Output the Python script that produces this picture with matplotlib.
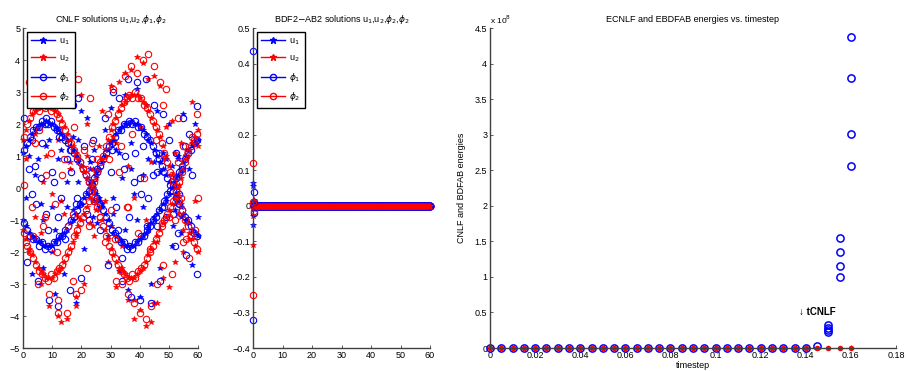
import numpy as np
import matplotlib
matplotlib.use('Agg')
import matplotlib.pyplot as plt
from matplotlib.lines import Line2D
from matplotlib.ticker import FuncFormatter

plt.rcParams['font.family'] = ['Liberation Sans', 'DejaVu Sans']
plt.rcParams['mathtext.fontset'] = 'dejavusans'

# ---------------- CNLF solutions (panel 1) ----------------
t_full = np.arange(61)          # 0..60
t_half = np.arange(60) + 0.5    # 0.5..59.5

# dense bands (stars on integer steps, circles in between)
u1_up = [1.1, 1.3, 1.5, 1.7, 1.8, 1.9, 2.0, 2.0, 2.1, 2.0,
         2.0, 1.9, 1.8, 1.7, 1.6, 1.5, 1.3, 1.2, 1.0, 0.8,
         0.7, 0.5, 0.3, 0.2, 0.0, -0.2, -0.4, -0.6, -0.8, -1.0,
         -1.2, -1.4, -1.5, -1.6, -1.7, -1.8, -1.8, -1.8, -1.8, -1.7,
         -1.6, -1.5, -1.4, -1.3, -1.1, -1.0, -0.8, -0.7, -0.5, -0.3,
         -0.2, 0.0, 0.2, 0.4, 0.6, 0.8, 1.0, 1.2, 1.3, 1.4,
         1.5]
u1_lo = [-1.0, -1.2, -1.4, -1.5, -1.6, -1.7, -1.7, -1.8, -1.8, -1.8,
         -1.8, -1.7, -1.6, -1.5, -1.4, -1.3, -1.1, -1.0, -0.8, -0.6,
         -0.5, -0.3, -0.2, 0.0, 0.2, 0.4, 0.6, 0.8, 1.0, 1.2,
         1.4, 1.5, 1.7, 1.8, 1.9, 2.0, 2.0, 2.1, 2.0, 2.0,
         1.9, 1.8, 1.7, 1.5, 1.4, 1.2, 1.0, 0.8, 0.6, 0.4,
         0.2, 0.0, -0.2, -0.4, -0.6, -0.8, -1.0, -1.1, -1.3, -1.4,
         -1.5]
u2_up = [1.5, 1.8, 2.1, 2.3, 2.4, 2.5, 2.5, 2.6, 2.5, 2.5,
         2.5, 2.4, 2.3, 2.1, 1.9, 1.7, 1.5, 1.3, 1.1, 0.9,
         0.7, 0.5, 0.3, 0.1, -0.1, -0.4, -0.7, -1.0, -1.3, -1.6,
         -1.9, -2.1, -2.3, -2.5, -2.6, -2.7, -2.8, -2.8, -2.8, -2.7,
         -2.6, -2.5, -2.3, -2.1, -1.9, -1.7, -1.5, -1.3, -1.1, -0.9,
         -0.7, -0.5, -0.3, 0.0, 0.3, 0.6, 0.9, 1.2, 1.4, 1.6,
         1.8]
u2_lo = [-1.3, -1.6, -1.9, -2.1, -2.3, -2.5, -2.6, -2.7, -2.8, -2.8,
         -2.8, -2.7, -2.6, -2.5, -2.3, -2.1, -1.9, -1.7, -1.4, -1.2,
         -1.0, -0.8, -0.6, -0.3, 0.0, 0.3, 0.6, 0.9, 1.2, 1.5,
         1.8, 2.0, 2.2, 2.4, 2.6, 2.7, 2.8, 2.9, 2.9, 2.9,
         2.8, 2.7, 2.6, 2.4, 2.2, 2.0, 1.8, 1.6, 1.3, 1.0,
         0.7, 0.4, 0.1, -0.2, -0.5, -0.8, -1.1, -1.4, -1.6, -1.8,
         -2.0]
phi1_up = [1.2, 1.4, 1.6, 1.8, 1.9, 1.9, 2.1, 2.0, 2.0, 2.1,
           1.9, 1.8, 1.8, 1.6, 1.5, 1.4, 1.2, 1.1, 0.9, 0.8,
           0.6, 0.4, 0.2, 0.1, -0.1, -0.3, -0.5, -0.7, -0.9, -1.1,
           -1.3, -1.4, -1.6, -1.7, -1.7, -1.9, -1.8, -1.9, -1.7, -1.7,
           -1.5, -1.5, -1.3, -1.2, -1.0, -0.9, -0.7, -0.6, -0.4, -0.2,
           -0.1, 0.1, 0.3, 0.5, 0.7, 0.9, 1.1, 1.2, 1.4, 1.5]
phi1_lo = [-1.1, -1.3, -1.5, -1.6, -1.6, -1.8, -1.7, -1.9, -1.8, -1.9,
           -1.7, -1.7, -1.5, -1.5, -1.3, -1.2, -1.0, -0.9, -0.7, -0.5,
           -0.4, -0.2, -0.1, 0.1, 0.3, 0.5, 0.7, 0.9, 1.1, 1.3,
           1.4, 1.6, 1.8, 1.8, 2.0, 2.0, 2.1, 2.0, 2.1, 1.9,
           1.9, 1.7, 1.6, 1.5, 1.3, 1.1, 0.9, 0.7, 0.5, 0.3,
           0.1, -0.1, -0.3, -0.5, -0.7, -0.9, -1.0, -1.2, -1.4, -1.5]
phi2_up = [1.6, 2.0, 2.2, 2.4, 2.5, 2.4, 2.6, 2.5, 2.6, 2.4,
           2.5, 2.3, 2.2, 2.0, 1.8, 1.6, 1.4, 1.2, 1.0, 0.8,
           0.6, 0.4, 0.2, 0.0, -0.3, -0.6, -0.9, -1.2, -1.5, -1.8,
           -2.0, -2.2, -2.4, -2.6, -2.7, -2.8, -2.9, -2.7, -2.8, -2.6,
           -2.5, -2.4, -2.2, -2.0, -1.8, -1.6, -1.4, -1.2, -1.0, -0.8,
           -0.6, -0.4, -0.1, 0.2, 0.5, 0.8, 1.1, 1.3, 1.5, 1.7]
phi2_lo = [-1.4, -1.8, -2.0, -2.2, -2.4, -2.6, -2.7, -2.8, -2.9, -2.7,
           -2.8, -2.6, -2.5, -2.4, -2.2, -2.0, -1.8, -1.5, -1.3, -1.1,
           -0.9, -0.7, -0.4, -0.1, 0.2, 0.5, 0.8, 1.0, 1.3, 1.6,
           1.9, 2.1, 2.3, 2.5, 2.7, 2.8, 2.9, 2.8, 3.0, 2.8,
           2.8, 2.6, 2.5, 2.3, 2.1, 1.9, 1.7, 1.4, 1.1, 0.8,
           0.5, 0.2, -0.1, -0.4, -0.7, -1.0, -1.2, -1.5, -1.7, -1.9]

# scattered points around the bands
u1_sx = [1, 2, 3, 4, 5, 6, 7, 8, 9, 10,
         11, 12, 13, 14, 15, 16, 17, 18, 19, 20,
         21, 22, 23, 27, 28, 29, 30, 31, 32, 33,
         34, 35, 36, 37, 38, 39, 40, 41, 42, 43,
         44, 45, 46, 47, 48, 49, 50, 51, 53, 54,
         55, 56, 57, 58, 59, 60, 25, 26, 52, 24,
         23, 24, 25, 26, 24.5, 25.5, 51, 52, 53, 54, 52.5, 51.5,
         5, 7, 9, 11, 13, 15, 17, 19,
         31, 33, 35, 37, 39, 41, 43, 45, 47, 49]
u1_sy = [-0.3, 1.0, -2.7, 0.4, 2.9, -0.5, -2.5, 1.3, 3.0, -0.6,
         -3.3, 0.9, 2.6, -2.7, 0.2, 3.0, -0.7, -3.6, 1.5, 2.4,
         -1.9, 2.2, 0.6, -0.5, 1.8, -1.5, 2.5, -0.3, 1.2, -2.6,
         0.3, 2.9, -3.2, 1.4, -0.2, 3.1, -3.4, 0.4, 2.6, -1.2,
         -3.0, 0.8, 2.4, -2.5, 1.1, -0.4, 2.0, -1.8, 0.9, -1.4,
         2.3, -1.0, 0.6, -2.4, 2.0, -0.9, 0.4, -0.6, -0.7, -0.4,
         0.8, -0.9, 0.5, -0.3, 1.2, -1.1, 0.7, -0.5, 1.0, -0.9, 0.3, -1.2,
         0.9, -1.0, 1.5, -1.3, 1.2, -0.6, 1.6, 0.2,
         -0.8, 1.1, -1.3, 0.6, -1.0, -0.6, 0.9, -0.9, 0.5, 0.9]
u2_sx = [1, 2, 3, 4, 5, 6, 7, 8, 9, 10,
         11, 12, 13, 14, 15, 16, 17, 18, 19, 20,
         21, 22, 24, 27, 28, 29, 30, 31, 32, 33,
         34, 35, 36, 37, 38, 39, 40, 41, 42, 43,
         44, 45, 46, 47, 48, 49, 50, 51, 52, 54,
         55, 56, 57, 58, 59, 60, 13, 18, 38, 45,
         22, 23, 24, 25, 26, 23.5, 24.5, 52, 53, 54, 55, 53.5,
         4, 6, 8, 10, 12, 14, 16, 18,
         30, 32, 34, 36, 38, 40, 42, 44, 46, 48]
u2_sy = [0.9, -2.0, 2.8, -0.9, 3.2, -3.0, 0.2, 3.4, -3.7, -0.2,
         3.0, -4.0, -0.4, 3.1, -4.1, 0.8, 3.6, -3.4, -0.9, 2.9,
         -3.0, 2.0, -1.2, 2.4, -0.4, -2.3, 3.2, 1.6, -3.1, 3.3,
         -2.5, 3.6, -3.5, 3.7, -4.1, 4.1, -3.8, 3.9, -4.3, 3.4,
         -4.2, 3.5, -3.6, 3.2, -2.8, 1.9, -3.1, 2.1, -2.3, 1.4,
         -2.0, 1.2, -1.6, 2.7, -0.4, 1.3, -4.2, -3.7, -3.5, -3.6,
         1.0, -1.1, 0.6, -0.7, 1.3, 0.2, -1.5, 1.1, -0.8, 0.5, -1.3, 0.1,
         1.7, -1.4, 1.0, -2.0, 1.5, -0.8, 0.6, -1.5,
         -1.2, 1.4, -1.8, 0.7, -0.3, 1.9, -1.0, 0.8, -1.7, 0.9]
phi1_sx = [0.5, 1.5, 2, 3, 4, 5, 6, 7, 8, 9,
           10, 11, 12, 13, 14, 15, 16, 17, 18, 19,
           20, 21, 22, 28, 29, 30, 31, 32, 33, 34,
           35, 36, 37, 38, 39, 40, 41, 42, 43, 44,
           45, 46, 47, 48, 49, 50, 55, 56, 57, 58,
           59.5, 59.5, 3, 8, 12, 16, 34, 40, 46, 52,
           22.5, 23.5, 24.5, 25.5, 26.5, 24, 51.5, 52.5, 53.5, 54.5, 53, 55.5,
           4.5, 6.5, 8.5, 10.5, 12.5, 14.5, 16.5, 18.5,
           30.5, 32.5, 34.5, 36.5, 38.5, 40.5, 42.5, 44.5, 46.5, 48.5]
phi1_sy = [2.2, -2.3, 0.6, -0.2, 0.7, -2.9, 0.3, 3.1, -0.8, -3.5,
           0.5, 2.7, -3.7, -0.3, 2.9, 0.9, -3.2, 2.6, -0.5, 2.8,
           -2.8, 1.3, -0.8, 2.2, -2.4, 0.5, 3.0, -0.6, 2.8, -2.9,
           1.0, 3.4, -3.4, 0.2, 3.3, -3.5, 1.3, 3.4, -0.3, -3.6,
           2.6, 0.5, -2.9, 2.3, -0.9, 1.5, 2.2, -2.1, 1.7, 0.4,
           2.55, -2.7, 1.5, 2.2, -0.9, 1.2, -2.2, 0.3, -1.2, -1.8,
           -1.0, 0.9, -0.4, 0.6, -1.3, 1.5, -0.8, 1.1, -0.2, 0.6, -1.4, 1.3,
           -0.5, 1.4, -1.3, 0.2, 1.6, -1.6, 0.5, -0.3,
           1.2, -1.3, 0.6, -0.9, 1.1, -0.2, -1.2, 0.4, 1.1, -0.6]
phi2_sx = [0.5, 1, 2, 3, 4, 5, 6, 7, 8, 9,
           10, 11, 12, 13, 14, 15, 16, 17, 18, 19,
           20, 21, 22, 23, 28, 29, 30, 31, 32, 33,
           34, 35, 36, 37, 38, 39, 40, 41, 42, 43,
           44, 45, 46, 47, 48, 49, 50, 51, 53, 55,
           56, 57, 58, 59, 59.5, 60, 12, 17, 48, 36,
           21.5, 22.5, 23.5, 24.5, 25.5, 26.5, 52, 53, 54, 55, 56, 51,
           3.5, 5.5, 7.5, 9.5, 11.5, 13.5, 15.5, 17.5,
           29.5, 31.5, 33.5, 35.5, 37.5, 39.5, 41.5, 43.5, 45.5, 47.5]
phi2_sy = [0.1, -1.7, 3.3, -0.6, 1.4, -3.0, 3.5, -1.2, 0.4, -3.3,
           3.0, -0.5, -3.9, 3.3, 0.9, -3.9, 3.7, -0.8, -3.3, 3.4,
           -3.2, 1.2, -2.5, 2.8, -1.7, 2.3, -0.7, 3.1, -2.9, 0.5,
           -3.0, 3.5, -3.3, 3.8, -3.6, 3.6, -3.9, 4.0, -4.1, 4.2,
           -3.7, 3.8, -3.0, 3.3, -2.4, 3.1, -0.9, -2.7, 2.2, -1.7,
           1.0, -2.2, 1.6, -1.3, 2.3, -0.3, -3.5, -2.9, 2.6, -0.6,
           0.6, -1.2, 1.4, -0.4, 0.9, -0.9, -1.0, 0.8, -0.3, 1.3, -1.6, 0.4,
           -1.5, 1.8, -0.9, 1.1, -2.0, 0.4, -1.2, 1.9,
           0.9, -1.6, 1.3, -0.6, 1.7, -1.4, 0.3, -1.9, 1.5, -1.1]

# ---------------- BDF2-AB2 solutions (panel 2) ----------------
bdf_u1_x = [0.0, 0.05, 0.3, 0.1]
bdf_u1_y = [0.065, 0.055, 0.01, -0.055]
bdf_u2_x = [0.0, 0.0, 0.3, 0.1]
bdf_u2_y = [-0.11, -0.03, 0.015, -0.01]
bdf_phi1_x = [0.0, 0.2, 0.5, 0.5, 0.0]
bdf_phi1_y = [0.435, 0.04, 0.01, -0.02, -0.32]
bdf_phi2_x = [0.0, 0.0, 0.2, 0.0]
bdf_phi2_y = [0.12, 0.01, -0.015, -0.25]
tail_t = np.arange(1, 241) * 0.25
tail_val = [0.0] * len(tail_t)

# ---------------- energies (panel 3), in units of 1e8 ----------------
steps = np.round(np.arange(33) * 0.005, 3)
ebdfab = [0.0] * 33
ecnlf_t = list(steps[:30]) + [0.15] * 4 + [0.155] * 4 + [0.16] * 4
ecnlf = [0.0] * 29 + [0.03] + [0.22, 0.25, 0.28, 0.32] + \
        [1.0, 1.16, 1.35, 1.55] + [2.56, 3.01, 3.79, 4.38]

BLUE = '#0000ff'
RED = '#ff0000'
AXC = '#404040'
FS = 6.5


def fmt(v, p):
    return f'{round(v, 6) + 0.0:g}'.replace('-', '\u2212')


def stars(ax, x, y, c, ms=4.2):
    ax.plot(x, y, ls='none', marker='*', ms=ms, color=c, mew=0.5, clip_on=False)


def rings(ax, x, y, c, ms=4.6):
    ax.plot(x, y, ls='none', marker='o', ms=ms, mfc='none', mec=c, mew=0.8, clip_on=False)


def style(ax):
    for s in ['top', 'right']:
        ax.spines[s].set_visible(False)
    for s in ['left', 'bottom']:
        ax.spines[s].set_color(AXC)
        ax.spines[s].set_linewidth(1.0)
    ax.tick_params(direction='in', length=2.5, width=0.6, labelsize=FS, pad=2, color=AXC)
    ax.xaxis.set_major_formatter(FuncFormatter(fmt))
    ax.yaxis.set_major_formatter(FuncFormatter(fmt))


def legend(ax):
    hs = [Line2D([], [], color=BLUE, marker='*', ms=4.5, lw=1),
          Line2D([], [], color=RED, marker='*', ms=4.5, lw=1),
          Line2D([], [], color=BLUE, marker='o', ms=4.5, mfc='none', lw=1),
          Line2D([], [], color=RED, marker='o', ms=4.5, mfc='none', lw=1)]
    labs = [r'u$_1$', r'u$_2$', r'$\phi_1$', r'$\phi_2$']
    lg = ax.legend(hs, labs, loc='upper left', fontsize=FS, fancybox=False,
                   framealpha=1, edgecolor='black', labelspacing=0.75,
                   handlelength=2.6, borderaxespad=0.4, borderpad=0.5,
                   handletextpad=0.5)
    lg.get_frame().set_linewidth(1.0)
    lg.set_zorder(5)


fig = plt.figure(figsize=(9.07, 3.71), dpi=100)
H = 371.0
W = 907.0
ax1 = fig.add_axes([23 / W, 1 - 348 / H, 175 / W, 320 / H])
ax2 = fig.add_axes([253 / W, 1 - 348 / H, 177 / W, 320 / H])
ax3 = fig.add_axes([490 / W, 1 - 348 / H, 406 / W, 320 / H])

# panel 1
stars(ax1, t_full, u1_up, BLUE)
stars(ax1, t_full, u1_lo, BLUE)
stars(ax1, u1_sx, u1_sy, BLUE)
stars(ax1, t_full, u2_up, RED)
stars(ax1, t_full, u2_lo, RED)
stars(ax1, u2_sx, u2_sy, RED)
rings(ax1, t_half, phi1_up, BLUE)
rings(ax1, t_half, phi1_lo, BLUE)
rings(ax1, phi1_sx, phi1_sy, BLUE)
rings(ax1, t_half, phi2_up, RED)
rings(ax1, t_half, phi2_lo, RED)
rings(ax1, phi2_sx, phi2_sy, RED)
ax1.set_xlim(0, 60)
ax1.set_ylim(-5, 5)
ax1.set_xticks(range(0, 61, 10))
ax1.set_yticks(range(-5, 6))
style(ax1)
legend(ax1)
ax1.set_title(r'CNLF solutions u$_1$,u$_2$,$\phi_1$,$\phi_2$', fontsize=FS, pad=4)

# panel 2: dense band at zero, red and blue marks interleaved
rings(ax2, tail_t, tail_val, RED, ms=5.0)
stars(ax2, tail_t + 0.125, tail_val, BLUE, ms=5.0)
rings(ax2, tail_t + 0.125, tail_val, BLUE, ms=5.0)
stars(ax2, tail_t, tail_val, RED, ms=5.0)
stars(ax2, bdf_u1_x, bdf_u1_y, BLUE)
stars(ax2, bdf_u2_x, bdf_u2_y, RED)
rings(ax2, bdf_phi1_x, bdf_phi1_y, BLUE)
rings(ax2, bdf_phi2_x, bdf_phi2_y, RED)
ax2.set_xlim(0, 60)
ax2.set_ylim(-0.4, 0.5)
ax2.set_xticks(range(0, 61, 10))
ax2.set_yticks(np.round(np.arange(-0.4, 0.51, 0.1), 1))
style(ax2)
legend(ax2)
ax2.set_title(r'BDF2$-$AB2 solutions u$_1$,u$_2$,$\phi_2$,$\phi_2$', fontsize=FS, pad=4)

# panel 3
ax3.plot(ecnlf_t, ecnlf, ls='none', marker='o', ms=5.2, mfc='none', mec=BLUE,
         mew=1.1, clip_on=False)
ax3.plot(steps, ebdfab, ls='none', marker='o', ms=4.0, color=RED, mec=RED,
         mew=0, clip_on=False)
ax3.set_xlim(0, 0.18)
ax3.set_ylim(0, 4.5)
ax3.set_xticks(np.round(np.arange(0, 0.181, 0.02), 2))
ax3.set_yticks(np.round(np.arange(0, 4.51, 0.5), 1))
style(ax3)
ax3.set_title('ECNLF and EBDFAB energies vs. timestep', fontsize=FS, pad=4)
ax3.set_xlabel('timestep', fontsize=FS, labelpad=1)
ax3.set_ylabel('CNLF and BDFAB energies', fontsize=FS, labelpad=6)
ax3.text(0.0, 1.005, r'x 10$^8$', transform=ax3.transAxes, fontsize=FS - 0.5,
         ha='left', va='bottom')
ax3.text(0.1372, 0.5, '\u2193 tCNLF', fontsize=FS + 0.5, fontweight='bold',
         ha='left', va='center')

fig.savefig('out.png', dpi=100)
